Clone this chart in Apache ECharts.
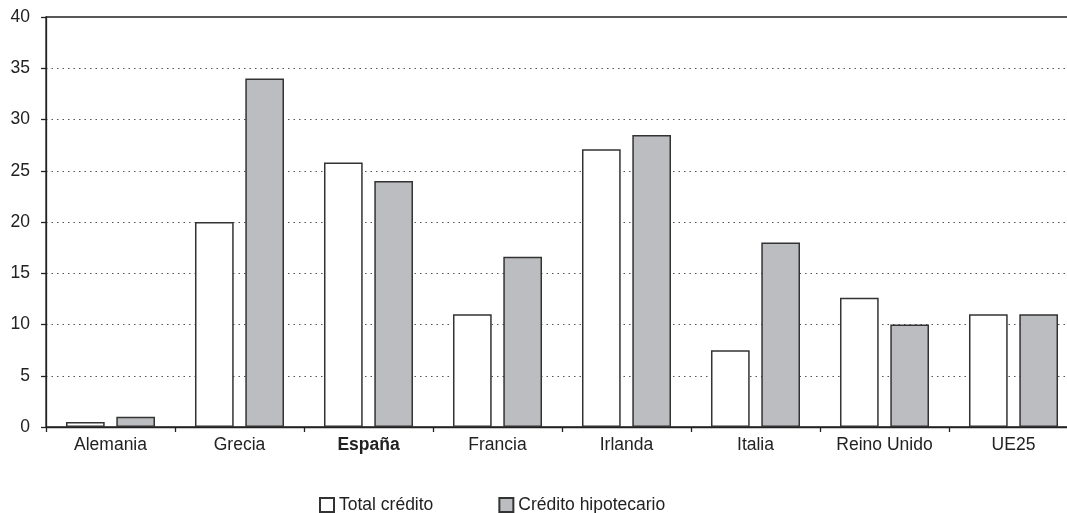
<!DOCTYPE html>
<html>
<head>
<meta charset="utf-8">
<script src="https://cdn.jsdelivr.net/npm/echarts@6/dist/echarts.min.js"></script>
<style>
  html, body { margin: 0; padding: 0; background: #fff; overflow: hidden; width: 1067px; height: 513px; }
  /* the plot frame runs past the right edge of the page and is clipped there */
  #chart { width: 1080px; height: 513px; }
</style>
</head>
<body>
<div id="chart"></div>
<script>
// Crecimiento del crédito por país (%)
const categories = ['Alemania', 'Grecia', 'España', 'Francia', 'Irlanda', 'Italia', 'Reino Unido', 'UE25'];
const totalCredito = [0.5, 20.0, 25.8, 11.0, 27.1, 7.5, 12.6, 11.0];
const creditoHipotecario = [1.0, 34.0, 24.0, 16.6, 28.5, 18.0, 10.0, 11.0];
const yTicks = [0, 5, 10, 15, 20, 25, 30, 35, 40];

const FONT = '"Liberation Sans", Arial, Helvetica, sans-serif';
const FS = 17.5;
const chart = echarts.init(document.getElementById('chart'), null, { renderer: 'canvas' });

chart.setOption({
  animation: false,
  backgroundColor: '#ffffff',
  textStyle: { fontFamily: FONT },
  grid: {
    left: 46,
    right: 2,
    top: 17,
    bottom: 86,
    show: true,
    borderColor: '#222',
    borderWidth: 1.3,
    backgroundColor: 'transparent'
  },
  legend: {
    left: 319,
    top: 496,
    padding: 0,
    itemWidth: 14,
    itemHeight: 14,
    itemGap: 65,
    icon: 'rect',
    textStyle: { fontFamily: FONT, fontSize: FS, color: '#222' },
    data: ['Total crédito', 'Crédito hipotecario']
  },
  xAxis: {
    type: 'category',
    data: categories,
    axisLine: { show: true, lineStyle: { color: '#222', width: 1.3 } },
    axisTick: { show: true, length: 5, inside: false, lineStyle: { color: '#222', width: 1.3 } },
    axisLabel: {
      fontFamily: FONT,
      fontSize: FS,
      color: '#222',
      margin: 9,
      formatter: function (v) { return v === 'España' ? '{b|' + v + '}' : v; },
      rich: { b: { fontWeight: 'bold', fontSize: FS, fontFamily: FONT, color: '#222' } }
    },
    splitLine: { show: false }
  },
  yAxis: {
    type: 'value',
    min: yTicks[0],
    max: yTicks[yTicks.length - 1],
    interval: yTicks[1] - yTicks[0],
    axisLine: { show: true, lineStyle: { color: '#222', width: 1.3 } },
    axisTick: { show: true, length: 5, lineStyle: { color: '#222', width: 1.3 } },
    axisLabel: { fontFamily: FONT, fontSize: FS, color: '#222', margin: 16 },
    splitLine: {
      show: true,
      lineStyle: { color: '#555', type: [1.5, 4], width: 1.2 }
    }
  },
  series: [
    {
      name: 'Total crédito',
      type: 'bar',
      data: totalCredito,
      barWidth: '30%',
      barGap: '30%',
      itemStyle: { color: '#ffffff', borderColor: '#333', borderWidth: 1.5 }
    },
    {
      name: 'Crédito hipotecario',
      type: 'bar',
      data: creditoHipotecario,
      barWidth: '30%',
      barGap: '30%',
      itemStyle: { color: '#bcbdc0', borderColor: '#333', borderWidth: 1.5 }
    }
  ]
});
</script>
</body>
</html>
